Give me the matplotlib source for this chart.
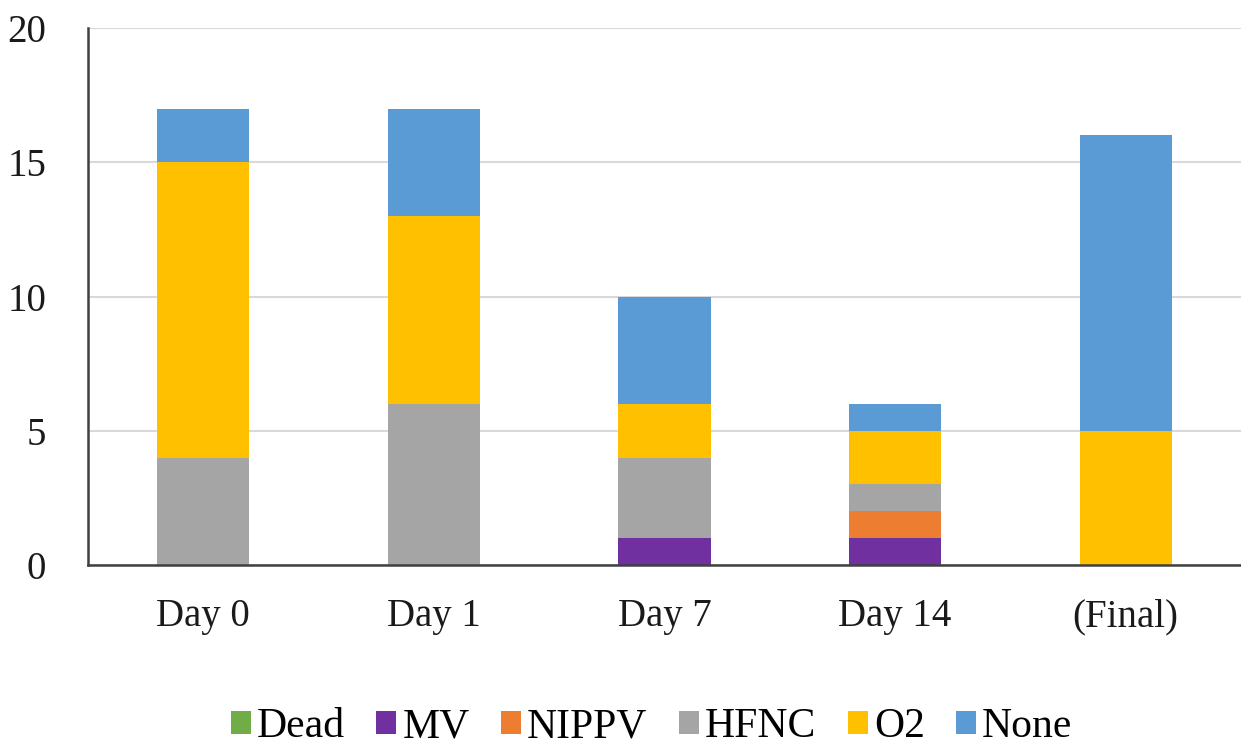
import matplotlib
matplotlib.use("Agg")
import matplotlib.pyplot as plt
import numpy as np

categories = ["Day 0", "Day 1", "Day 7", "Day 14", "(Final)"]
series_names = ["Dead", "MV", "NIPPV", "HFNC", "O2", "None"]
dead = [0, 0, 0, 0, 0]
mv = [0, 0, 1, 1, 0]
nippv = [0, 0, 0, 1, 0]
hfnc = [4, 6, 3, 1, 0]
o2 = [11, 7, 2, 2, 5]
none = [2, 4, 4, 1, 11]
colors = ["#70AD47", "#7030A0", "#ED7D31", "#A5A5A5", "#FFC000", "#5B9BD5"]
yticks = [0, 5, 10, 15, 20]

plt.rcParams['font.family'] = ['Liberation Serif', 'DejaVu Serif']

fig = plt.figure(figsize=(12.41, 7.47), dpi=100)
ax = fig.add_axes([0.0709, 0.2436, 0.9291, 0.7189])

x = np.arange(len(categories))
bottom = np.zeros(len(categories))
for name, vals, c in zip(series_names, [dead, mv, nippv, hfnc, o2, none], colors):
    ax.bar(x, vals, width=0.4, bottom=bottom, color=c, label=name, zorder=3)
    bottom += np.array(vals)

ax.set_xlim(-0.5, len(categories) - 0.5)
ax.set_ylim(0, 20)
ax.set_yticks(yticks)
ax.set_xticks(x)
ax.set_xticklabels(categories)
ax.tick_params(axis='both', length=0, labelsize=28, colors='#1a1a1a')
ax.tick_params(axis='x', pad=24)
ax.tick_params(axis='y', pad=30)
ax.grid(axis='y', color='#D9D9D9', linewidth=1.5, zorder=0)
for s in ['top', 'right']:
    ax.spines[s].set_visible(False)
for s in ['left', 'bottom']:
    ax.spines[s].set_color('#404040')
    ax.spines[s].set_linewidth(1.8)
    ax.spines[s].set_zorder(4)

leg = fig.legend(loc='center', bbox_to_anchor=(0.525, 0.027), ncol=6, frameon=False,
                 fontsize=30, handlelength=0.48, handleheight=0.48,
                 handletextpad=0.15, columnspacing=0.75)

fig.savefig("out.png", dpi=100)
